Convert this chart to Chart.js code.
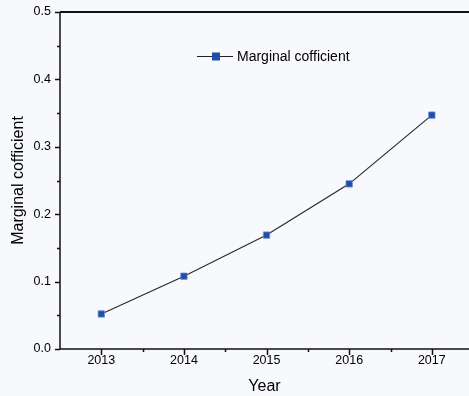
<!DOCTYPE html>
<html>
<head>
<meta charset="utf-8">
<script src="https://cdn.jsdelivr.net/npm/chart.js@4"></script>
<style>
    html, body { margin: 0; padding: 0; background: #f8f9fd; }
    #wrap { width: 469px; height: 396px; position: relative; }
</style>
</head>
<body>
<div id="wrap"><canvas id="coefChart"></canvas></div>
<script>
const years = [2013, 2014, 2015, 2016, 2017];
const coefficients = [0.052, 0.108, 0.169, 0.245, 0.347];
const seriesName = 'Marginal cofficient';
const xTitle = 'Year';
const yTitle = 'Marginal cofficient';

const FONT = '"Liberation Sans", Arial, sans-serif';
const MARKER = '#1f4ea8';

// ticks on the outside of each axis: long ones for labelled values, short ones halfway
const axisTicks = {
    id: 'axisTicks',
    afterDraw(chart) {
        const { ctx, chartArea, scales } = chart;
        ctx.save();
        ctx.strokeStyle = '#111';
        ctx.lineWidth = 1.5;

        // frame: left, bottom and top
        ctx.beginPath();
        ctx.moveTo(chartArea.left, chartArea.top);
        ctx.lineTo(chartArea.left, chartArea.bottom);
        ctx.lineTo(chartArea.right, chartArea.bottom);
        ctx.stroke();
        ctx.lineWidth = 2;
        ctx.beginPath();
        ctx.moveTo(chartArea.left, chartArea.top);
        ctx.lineTo(chartArea.right, chartArea.top);
        ctx.stroke();

        ctx.lineWidth = 1.5;
        ctx.beginPath();
        for (let v = 0; v <= 0.5001; v += 0.05) {
            const y = Math.round(scales.y.getPixelForValue(v)) + 0.5;
            const major = Math.abs(v * 10 - Math.round(v * 10)) < 1e-6;
            ctx.moveTo(chartArea.left, y);
            ctx.lineTo(chartArea.left - (major ? 5 : 3), y);
        }
        for (let v = 2013; v <= scales.x.max; v += 0.5) {
            const x = Math.round(scales.x.getPixelForValue(v)) + 0.5;
            const major = Number.isInteger(v);
            ctx.moveTo(x, chartArea.bottom);
            ctx.lineTo(x, chartArea.bottom + (major ? 6 : 3));
        }
        ctx.stroke();
        ctx.restore();
    }
};

// legend: line segment with a marker, then the series name
const seriesKey = {
    id: 'seriesKey',
    afterDraw(chart) {
        const { ctx } = chart;
        const y = 56;
        ctx.save();
        ctx.strokeStyle = '#222';
        ctx.lineWidth = 1;
        ctx.beginPath();
        ctx.moveTo(197, y + 0.5);
        ctx.lineTo(233, y + 0.5);
        ctx.stroke();
        ctx.fillStyle = MARKER;
        ctx.fillRect(212, y - 3.5, 8, 8);
        ctx.fillStyle = '#000';
        ctx.font = '14px ' + FONT;
        ctx.textBaseline = 'middle';
        ctx.fillText(seriesName, 237, y + 1);
        ctx.restore();
    }
};

new Chart(document.getElementById('coefChart'), {
    type: 'line',
    data: {
        datasets: [{
            label: seriesName,
            data: years.map((yr, i) => ({ x: yr, y: coefficients[i] })),
            borderColor: '#2a2a2a',
            borderWidth: 1.2,
            pointStyle: 'rect',
            pointRadius: 4.5,
            pointBackgroundColor: MARKER,
            pointBorderColor: '#6d8cd0',
            pointBorderWidth: 0.8,
            tension: 0
        }]
    },
    options: {
        responsive: true,
        maintainAspectRatio: false,
        animation: false,
        layout: { autoPadding: false, padding: { top: 12, right: 0, left: 0, bottom: 0 } },
        plugins: {
            legend: { display: false },
            tooltip: { enabled: false }
        },
        scales: {
            x: {
                type: 'linear',
                min: 2012.5,
                max: 2017.45,
                afterBuildTicks(scale) {
                    scale.ticks = years.map(v => ({ value: v }));
                },
                afterFit(scale) {
                    scale.height = 47;
                    scale.paddingLeft = 0;
                    scale.paddingRight = 0;
                },
                grid: { display: false, drawTicks: false },
                border: { display: false },
                ticks: {
                    padding: 4,
                    color: '#000',
                    font: { family: FONT, size: 12.5 },
                    callback: v => String(v)
                },
                title: {
                    display: true,
                    text: xTitle,
                    color: '#000',
                    font: { family: FONT, size: 16 },
                    padding: { top: 8, bottom: 0 }
                }
            },
            y: {
                min: 0,
                max: 0.5,
                ticks: {
                    stepSize: 0.1,
                    padding: 9,
                    color: '#000',
                    font: { family: FONT, size: 12.5 },
                    callback: v => v.toFixed(1)
                },
                afterFit(scale) {
                    scale.width = 60;
                    scale.paddingTop = 0;
                    scale.paddingBottom = 0;
                },
                grid: { display: false, drawTicks: false },
                border: { display: false },
                title: {
                    display: true,
                    text: yTitle,
                    color: '#000',
                    font: { family: FONT, size: 16 },
                    padding: { top: 9, bottom: 0 }
                }
            }
        }
    },
    plugins: [axisTicks, seriesKey]
});
</script>
</body>
</html>
